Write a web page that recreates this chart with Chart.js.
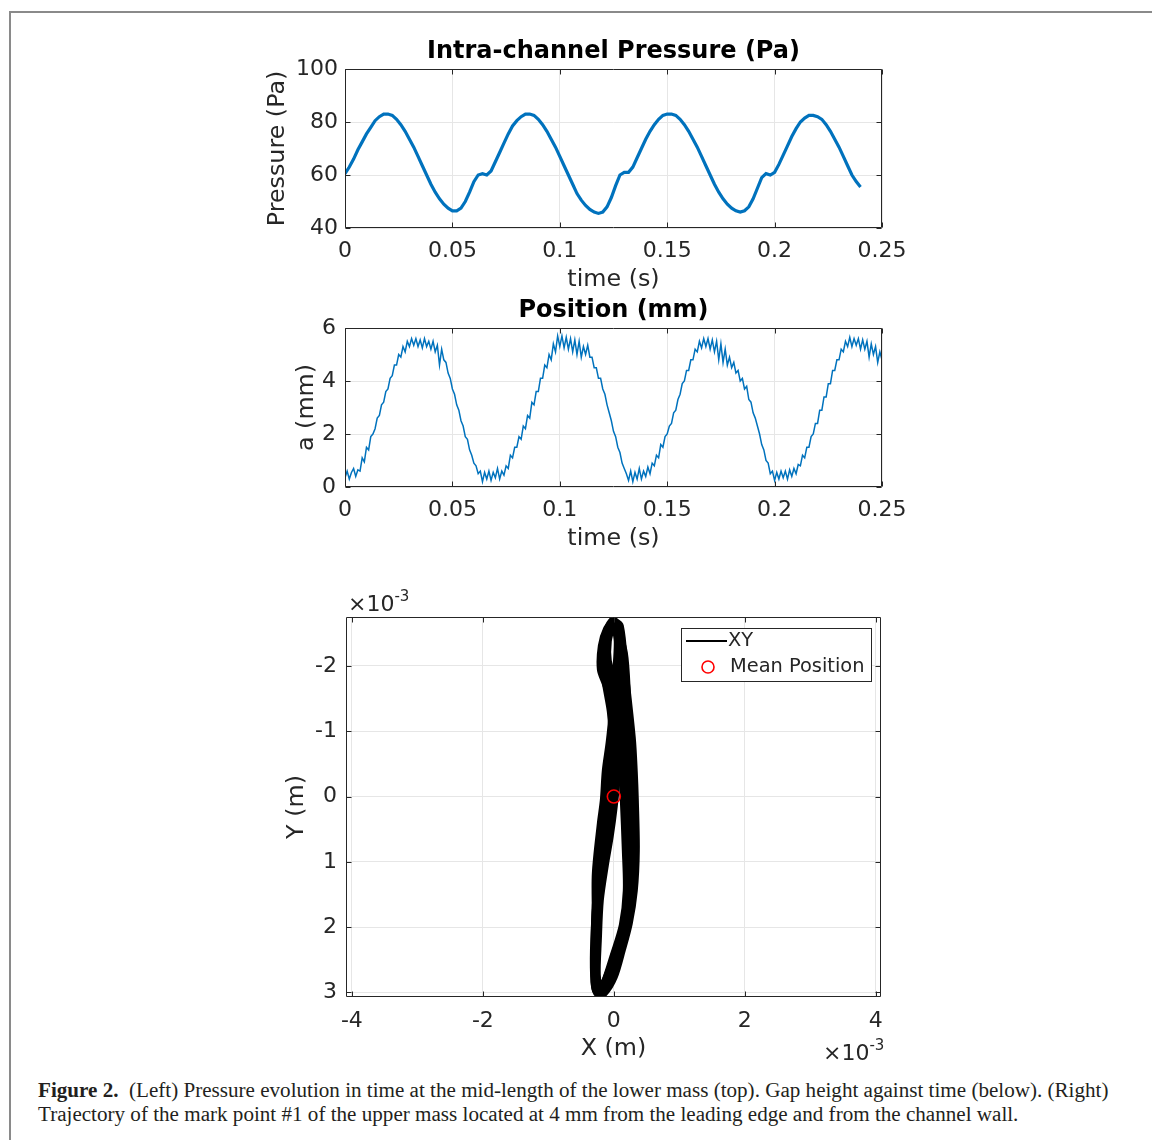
<!DOCTYPE html>
<html>
<head>
<meta charset="utf-8">
<script src="https://cdn.jsdelivr.net/npm/chart.js@4.4.1/dist/chart.umd.min.js"></script>
<style>
  body { margin: 0; background: #fff; width: 1152px; height: 1140px; position: relative; overflow: hidden; }
  .frame { position: absolute; left: 9px; top: 11px; right: -10px; bottom: -10px;
           border-left: 2px solid #8a8a8a; border-top: 2px solid #8a8a8a; }
  canvas { position: absolute; }
  .caption { position: absolute; left: 38px; top: 1078px; font-family: 'Liberation Serif', serif;
             font-size: 21.1px; line-height: 24px; color: #231f20; white-space: nowrap; }
</style>
</head>
<body>
<div class="frame"></div>
<canvas id="pressure" width="680" height="270" style="left:250px;top:30px"></canvas>
<canvas id="gap" width="680" height="270" style="left:250px;top:289px"></canvas>
<canvas id="xy" width="680" height="480" style="left:250px;top:585px"></canvas>
<div class="caption"><b>Figure 2.</b>&nbsp; (Left) Pressure evolution in time at the mid-length of the lower mass (top). Gap height against time (below). (Right)<br>Trajectory of the mark point #1 of the upper mass located at 4 mm from the leading edge and from the channel wall.</div>

<script>
// sampled signals: pressure every 2 ms, gap height every 1 ms
const pressureStep = 0.002;
const pressure = [
  60.5, 63, 66, 69.5, 72.5, 75.5, 78, 80.5, 82, 83,
  83, 82.5, 81, 79, 76.5, 73.5, 70.5, 67, 63.5, 60,
  56.5, 53.5, 51, 49, 47.5, 46.5, 46.5, 47.5, 50, 53.5,
  57.5, 60, 60.5, 60, 61.5, 65, 68.5, 72, 75.5, 78.5,
  80.5, 82, 83, 83, 82.5, 81, 79, 76.5, 73.5, 70.5,
  67, 63.5, 60, 56.5, 53, 50.5, 48.5, 47, 46, 45.5,
  46, 48, 51.5, 56, 60, 61, 61, 63, 66.5, 70,
  73.5, 76.5, 79, 81, 82.5, 83, 83, 82.5, 81, 79,
  76.5, 73.5, 70.5, 67, 63.5, 60, 56.5, 53.5, 51, 49,
  47.5, 46.5, 46, 46.5, 48, 51, 55, 59, 60.5, 60,
  61, 64, 67.5, 71, 74.5, 77.5, 80, 81.5, 82.5, 82.5,
  82, 81, 79, 76.5, 73.5, 70.5, 67, 63.5, 60, 57.5, 55.5
];

const gapStep = 0.001;
const gap = [
  0.35, 0.6, 0.3, 0.55, 0.7, 0.4, 0.65, 0.6, 1.1, 0.95,
  1.5, 1.4, 1.9, 2.0, 2.2, 2.6, 2.7, 3.1, 3.2, 3.6,
  3.7, 4.1, 4.2, 4.6, 4.6, 5.0, 4.9, 5.3, 5.1, 5.5,
  5.3, 5.6, 5.35, 5.6, 5.3, 5.55, 5.25, 5.6, 5.3, 5.5,
  5.2, 5.5, 5.1, 5.35, 4.6, 5.2, 4.8, 4.7, 4.3, 4.1,
  3.7, 3.5, 3.1, 2.9, 2.5, 2.3, 1.9, 1.8, 1.4, 1.2,
  0.9, 0.8, 0.5, 0.6, 0.2, 0.55, 0.3, 0.6, 0.25, 0.55,
  0.35, 0.7, 0.3, 0.6, 0.45, 0.8, 0.7, 1.2, 1.1, 1.5,
  1.5, 1.9, 1.8, 2.3, 2.2, 2.7, 2.6, 3.2, 3.1, 3.6,
  3.6, 4.1, 4.1, 4.6, 4.5, 5.0, 4.8, 5.4, 5.1, 5.7,
  5.3, 5.7, 5.25, 5.65, 5.2, 5.6, 5.1, 5.55, 5.0, 5.5,
  4.9, 5.3, 5.0, 5.35, 4.9, 4.9, 4.5, 4.5, 4.1, 4.1,
  3.7, 3.5, 3.1, 2.8, 2.5, 2.1, 1.9, 1.5, 1.3, 0.9,
  0.7, 0.5, 0.25, 0.6, 0.2, 0.55, 0.3, 0.7, 0.3, 0.6,
  0.4, 0.75, 0.5, 0.9, 0.8, 1.2, 1.1, 1.6, 1.5, 1.9,
  2.0, 2.3, 2.4, 2.8, 2.9, 3.3, 3.5, 3.9, 4.0, 4.4,
  4.4, 4.8, 4.8, 5.2, 5.1, 5.5, 5.25, 5.6, 5.3, 5.6,
  5.2, 5.55, 5.1, 5.5, 4.8, 5.4, 4.7, 5.2, 4.6, 4.9,
  4.5, 4.7, 4.3, 4.4, 4.0, 4.1, 3.7, 3.8, 3.3, 3.2,
  2.8, 2.6, 2.3, 2.0, 1.6, 1.4, 1.0, 0.9, 0.5, 0.6,
  0.25, 0.55, 0.3, 0.6, 0.35, 0.6, 0.3, 0.65, 0.4, 0.7,
  0.5, 0.85, 0.8, 1.2, 1.1, 1.5, 1.5, 1.9, 2.0, 2.4,
  2.4, 2.9, 2.9, 3.4, 3.4, 3.9, 3.9, 4.4, 4.4, 4.8,
  4.8, 5.2, 5.1, 5.5, 5.3, 5.65, 5.3, 5.6, 5.35, 5.6,
  5.2, 5.55, 5.2, 5.5, 4.9, 5.4, 5.0, 5.3, 4.7, 5.1, 4.8
];

// trajectory of mark point #1 (units of 1e-3 m), overlaid cycles
const xyLoopA = [
  [-0.015, -2.70], [0.092, -2.61], [0.168, -1.89], [0.275, -0.89], [0.305, -0.37],
  [0.321, 0.06], [0.336, 0.82], [0.305, 1.44], [0.229, 1.94], [0.122, 2.35],
  [0, 2.76], [-0.153, 3.01], [-0.244, 3.02], [-0.290, 2.89], [-0.290, 2.50],
  [-0.275, 1.89], [-0.275, 1.18], [-0.198, 0.41], [-0.153, 0.06], [-0.122, -0.40],
  [-0.061, -0.85], [-0.015, -1.39], [-0.061, -1.65], [-0.168, -2.00], [-0.137, -2.38],
  [-0.076, -2.61], [-0.015, -2.70]
];
const xyLoopB = [
  [0.015, -2.66], [0.107, -2.38], [0.107, -1.77], [0.153, -1.16], [0.198, -0.55],
  [0.229, 0.06], [0.244, 0.82], [0.229, 1.44], [0.153, 1.97], [0.015, 2.43],
  [-0.122, 2.81], [-0.214, 2.96], [-0.260, 2.73], [-0.244, 2.20], [-0.214, 1.59],
  [-0.137, 1.05], [-0.061, 0.60], [0, 0.14], [0.046, -0.32], [0.076, -0.85],
  [0.061, -1.39], [0, -1.77], [-0.092, -2.08], [-0.092, -2.38], [-0.031, -2.60],
  [0.015, -2.66]
];
const xyLoopC = [
  [0, -2.69], [0.061, -2.38], [0.031, -1.77], [0.061, -1.16], [0.122, -0.55],
  [0.153, 0.06], [0.183, 0.82], [0.198, 1.44], [0.137, 1.97], [0, 2.43],
  [-0.137, 2.85], [-0.229, 3.01], [-0.275, 2.81], [-0.290, 2.27], [-0.275, 1.66],
  [-0.214, 1.21], [-0.122, 0.75], [-0.046, 0.29], [0, -0.09], [0.031, -0.55],
  [0, -1.01], [-0.031, -1.47], [-0.122, -1.73], [-0.198, -1.95], [-0.183, -2.31],
  [-0.107, -2.56], [0, -2.69]
];
const xyLoopD = [
  [0.031, -2.64], [0.153, -2.20], [0.198, -1.60], [0.214, -1.00], [0.244, -0.40],
  [0.275, 0.30], [0.275, 1.00], [0.244, 1.60], [0.168, 2.05], [0.046, 2.45],
  [-0.092, 2.80], [-0.183, 2.98], [-0.275, 2.95], [-0.305, 2.60], [-0.290, 2.00],
  [-0.244, 1.40], [-0.168, 0.90], [-0.092, 0.40], [-0.046, -0.20], [-0.015, -0.80],
  [-0.046, -1.30], [-0.122, -1.75], [-0.153, -2.15], [-0.107, -2.50], [0.031, -2.64]
];
const meanPosition = [[0, 0]];

const timeTicks = [0, 0.05, 0.1, 0.15, 0.2, 0.25];
const pressureTicks = [40, 60, 80, 100];
const gapTicks = [0, 2, 4, 6];
const xyXTicks = [-4, -2, 0, 2, 4];
const xyYTicks = [-2, -1, 0, 1, 2, 3];

const ink = '#262626';
const gridColor = '#e6e6e6';
const lineBlue = '#0072bd';

Chart.defaults.font.family = '"DejaVu Sans"';
Chart.defaults.animation = false;

function axis(o) {
  const horizontal = o.horizontal;
  return {
    type: 'linear',
    min: o.min,
    max: o.max,
    reverse: !!o.reverse,
    afterBuildTicks: scale => { scale.ticks = o.ticks.map(v => ({ value: v })); },
    afterFit: scale => { if (horizontal) scale.height = o.size; else scale.width = o.size; },
    grid: { color: gridColor, lineWidth: 1, drawTicks: false },
    border: { display: false },
    ticks: {
      color: ink, font: { size: 22 }, padding: o.pad,
      maxRotation: 0, autoSkip: false, callback: v => String(v)
    },
    title: {
      display: true, text: o.title, color: ink, font: { size: 23.8 },
      padding: horizontal ? { top: 0, bottom: o.titlePad } : { top: o.titlePad, bottom: 0 }
    }
  };
}

// matlab-style box with inward tick marks on all four sides
const axesBox = {
  id: 'axesBox',
  afterDatasetsDraw(chart) {
    const { ctx, chartArea: a, scales: { x, y } } = chart;
    const L = Math.round(a.left) + 0.5, R = Math.round(a.right) - 0.5;
    const T = Math.round(a.top) + 0.5, B = Math.round(a.bottom) - 0.5;
    ctx.save();
    ctx.strokeStyle = ink;
    ctx.lineWidth = 1;
    ctx.beginPath();
    ctx.rect(L, T, R - L, B - T);
    x.ticks.forEach(t => {
      const px = Math.round(x.getPixelForValue(t.value)) + 0.5;
      ctx.moveTo(px, B); ctx.lineTo(px, B - 5);
      ctx.moveTo(px, T); ctx.lineTo(px, T + 5);
    });
    y.ticks.forEach(t => {
      const py = Math.round(y.getPixelForValue(t.value)) + 0.5;
      ctx.moveTo(L, py); ctx.lineTo(L + 5, py);
      ctx.moveTo(R, py); ctx.lineTo(R - 5, py);
    });
    ctx.stroke();
    ctx.restore();
  }
};

function timeChart(id, title, values, step, yOpts, width) {
  return new Chart(document.getElementById(id), {
    type: 'line',
    data: {
      datasets: [{
        data: values.map((v, i) => ({ x: i * step, y: v })),
        borderColor: lineBlue,
        borderWidth: width,
        pointRadius: 0,
        tension: 0,
        fill: false
      }]
    },
    options: {
      responsive: false,
      devicePixelRatio: 1,
      layout: { padding: { left: 0, right: 48, top: 0, bottom: 0 } },
      scales: {
        x: axis({ horizontal: true, min: 0, max: 0.25, ticks: timeTicks, size: 72, pad: 10,
                  title: 'time (s)', titlePad: 5.9 }),
        y: axis(yOpts)
      },
      plugins: {
        legend: { display: false },
        tooltip: { enabled: false },
        title: {
          display: true, text: title, color: '#000', fullSize: false,
          font: { size: 24, weight: 'bold' }, padding: { top: 7, bottom: 3.2 }
        }
      }
    },
    plugins: [axesBox]
  });
}

timeChart('pressure', 'Intra-channel Pressure (Pa)', pressure, pressureStep,
  { min: 40, max: 100, ticks: pressureTicks, size: 95, pad: 7, title: 'Pressure (Pa)', titlePad: 13.9 }, 3.2);

timeChart('gap', 'Position (mm)', gap, gapStep,
  { min: 0, max: 6, ticks: gapTicks, size: 95, pad: 9, title: 'a (mm)', titlePad: 42.9 }, 1.5);

// exponent labels and legend for the trajectory plot
function drawExponent(ctx, x, y) {
  ctx.font = '22px "DejaVu Sans"';
  ctx.textAlign = 'left';
  ctx.textBaseline = 'middle';
  ctx.fillText('×10', x, y);
  const w = ctx.measureText('×10').width;
  ctx.font = '15px "DejaVu Sans"';
  ctx.fillText('-3', x + w, y - 8);
}

const xyExtras = {
  id: 'xyExtras',
  afterDraw(chart) {
    const { ctx, chartArea: a } = chart;
    ctx.save();
    ctx.fillStyle = ink;
    drawExponent(ctx, a.left + 2, a.top - 12);
    drawExponent(ctx, a.right - 58, a.bottom + 57);

    const lx = Math.round(a.right) - 200, ly = Math.round(a.top) + 11, lw = 190, lh = 53;
    ctx.fillStyle = '#fff';
    ctx.fillRect(lx, ly, lw, lh);
    ctx.strokeStyle = ink;
    ctx.lineWidth = 1;
    ctx.strokeRect(lx + 0.5, ly + 0.5, lw, lh);

    ctx.strokeStyle = '#000';
    ctx.lineWidth = 2;
    ctx.beginPath();
    ctx.moveTo(lx + 5, ly + 13);
    ctx.lineTo(lx + 46, ly + 13);
    ctx.stroke();

    ctx.strokeStyle = '#ff0000';
    ctx.lineWidth = 1.6;
    ctx.beginPath();
    ctx.arc(lx + 27, ly + 39, 6, 0, Math.PI * 2);
    ctx.stroke();

    ctx.fillStyle = ink;
    ctx.font = '19.4px "DejaVu Sans"';
    ctx.textAlign = 'left';
    ctx.textBaseline = 'middle';
    ctx.fillText('XY', lx + 47, ly + 13);
    ctx.fillText('Mean Position', lx + 49, ly + 39);
    ctx.restore();
  }
};

const toPoints = arr => arr.map(([x, y]) => ({ x, y }));

new Chart(document.getElementById('xy'), {
  type: 'scatter',
  data: {
    datasets: [
      {
        label: 'Mean Position',
        data: toPoints(meanPosition),
        showLine: false,
        pointRadius: 6.5,
        pointBorderWidth: 1.6,
        pointBorderColor: '#ff0000',
        pointBackgroundColor: 'rgba(0,0,0,0)',
        order: 0
      },
      ...[xyLoopA, xyLoopB, xyLoopC, xyLoopD].map(loop => ({
        label: 'XY',
        data: toPoints(loop),
        showLine: true,
        borderColor: '#000',
        borderWidth: 8,
        borderJoinStyle: 'round',
        borderCapStyle: 'round',
        pointRadius: 0,
        tension: 0.3,
        order: 1
      }))
    ]
  },
  options: {
    responsive: false,
    devicePixelRatio: 1,
    layout: { padding: { left: 0, right: 49, top: 32, bottom: 0 } },
    scales: {
      x: axis({ horizontal: true, min: -4.09, max: 4.08, ticks: xyXTicks, size: 68, pad: 11,
                title: 'X (m)', titlePad: 2 }),
      y: axis({ min: -2.75, max: 3.07, reverse: true, ticks: xyYTicks, size: 96, pad: 9,
                title: 'Y (m)', titlePad: 32.9 })
    },
    plugins: {
      legend: { display: false },
      tooltip: { enabled: false }
    }
  },
  plugins: [axesBox, xyExtras]
});
</script>
</body>
</html>
